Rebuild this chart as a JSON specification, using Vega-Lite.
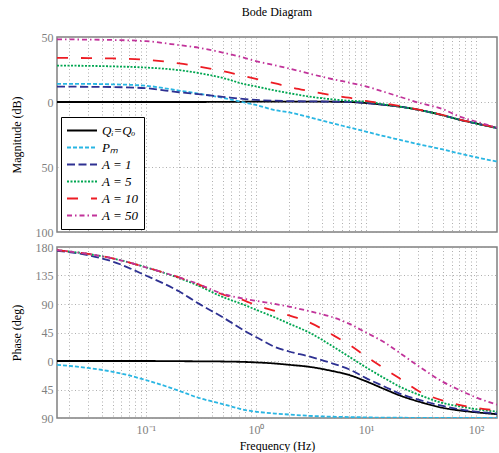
{
  "$schema": "https://vega.github.io/schema/vega-lite/v6.json",
  "background": "white",
  "padding": {"left": 9, "top": 5, "right": 1, "bottom": 0},
  "config": {
    "font": "Liberation Serif",
    "view": {"stroke": "#808080", "strokeWidth": 1.5},
    "axis": {
      "labelFont": "Liberation Serif", "titleFont": "Liberation Serif",
      "labelColor": "#7f7f7f", "labelFontSize": 12, "titleFontSize": 12,
      "titleFontWeight": "normal", "titleColor": "#000000",
      "domain": false, "grid": true, "gridColor": "#9a9a9a", "gridDash": [1, 2.5], "gridWidth": 0.8,
      "ticks": false, "labelPadding": 4
    },
    "legend": {
      "orient": "none", "legendX": 4, "legendY": 80, "title": null,
      "labelFont": "Liberation Serif", "labelFontStyle": "italic", "labelFontSize": 13, "labelColor": "#000000",
      "symbolType": "stroke", "symbolSize": 900, "symbolStrokeWidth": 2, "clipHeight": 17,
      "strokeColor": "#000000", "fillColor": "white", "padding": 5, "rowPadding": 0, "labelOffset": 4
    }
  },
  "data": {"values": [
    {"s":"Qᵢ=Qₒ","f":0.0156,"m":0,"p":0},{"s":"Qᵢ=Qₒ","f":0.03,"m":0,"p":0},{"s":"Qᵢ=Qₒ","f":0.05,"m":0,"p":0},{"s":"Qᵢ=Qₒ","f":0.1,"m":0,"p":0},{"s":"Qᵢ=Qₒ","f":0.2,"m":0,"p":-0.3},{"s":"Qᵢ=Qₒ","f":0.3,"m":0,"p":-0.5},{"s":"Qᵢ=Qₒ","f":0.5,"m":0.1,"p":-0.8},{"s":"Qᵢ=Qₒ","f":0.8,"m":0.2,"p":-1.5},{"s":"Qᵢ=Qₒ","f":1,"m":0.3,"p":-2.2},{"s":"Qᵢ=Qₒ","f":1.5,"m":0.3,"p":-4},{"s":"Qᵢ=Qₒ","f":2,"m":0.3,"p":-6},{"s":"Qᵢ=Qₒ","f":3,"m":0.3,"p":-9},{"s":"Qᵢ=Qₒ","f":5,"m":0.2,"p":-16},{"s":"Qᵢ=Qₒ","f":7,"m":0,"p":-22},{"s":"Qᵢ=Qₒ","f":10,"m":-0.8,"p":-32},{"s":"Qᵢ=Qₒ","f":15,"m":-2.3,"p":-45},{"s":"Qᵢ=Qₒ","f":20,"m":-3.5,"p":-54},{"s":"Qᵢ=Qₒ","f":30,"m":-6,"p":-64},{"s":"Qᵢ=Qₒ","f":50,"m":-10.2,"p":-74},{"s":"Qᵢ=Qₒ","f":70,"m":-13.5,"p":-78},{"s":"Qᵢ=Qₒ","f":100,"m":-16.5,"p":-81},{"s":"Qᵢ=Qₒ","f":155,"m":-20,"p":-84},
    {"s":"Pₘ","f":0.0156,"m":14,"p":-6},{"s":"Pₘ","f":0.03,"m":13.9,"p":-11},{"s":"Pₘ","f":0.05,"m":13.6,"p":-17},{"s":"Pₘ","f":0.1,"m":12.5,"p":-30},{"s":"Pₘ","f":0.2,"m":8.8,"p":-47},{"s":"Pₘ","f":0.3,"m":6.5,"p":-58},{"s":"Pₘ","f":0.5,"m":3.2,"p":-68},{"s":"Pₘ","f":0.8,"m":-0.5,"p":-77.5},{"s":"Pₘ","f":1,"m":-2.3,"p":-80},{"s":"Pₘ","f":1.5,"m":-6.3,"p":-83},{"s":"Pₘ","f":2,"m":-8,"p":-84.5},{"s":"Pₘ","f":3,"m":-11.5,"p":-86.5},{"s":"Pₘ","f":5,"m":-16.4,"p":-88},{"s":"Pₘ","f":7,"m":-19.5,"p":-88.5},{"s":"Pₘ","f":10,"m":-22.8,"p":-89},{"s":"Pₘ","f":15,"m":-26.5,"p":-89.5},{"s":"Pₘ","f":20,"m":-29,"p":-89.6},{"s":"Pₘ","f":30,"m":-32.5,"p":-89.7},{"s":"Pₘ","f":50,"m":-36.5,"p":-89.8},{"s":"Pₘ","f":70,"m":-39.5,"p":-89.8},{"s":"Pₘ","f":100,"m":-42.5,"p":-89.9},{"s":"Pₘ","f":155,"m":-45.8,"p":-89.9},
    {"s":"A = 1","f":0.0156,"m":11.8,"p":174},{"s":"A = 1","f":0.03,"m":11.7,"p":167},{"s":"A = 1","f":0.05,"m":11.5,"p":157},{"s":"A = 1","f":0.1,"m":10.6,"p":135},{"s":"A = 1","f":0.2,"m":7.5,"p":110},{"s":"A = 1","f":0.3,"m":6,"p":91},{"s":"A = 1","f":0.5,"m":4,"p":69},{"s":"A = 1","f":0.8,"m":2.2,"p":47},{"s":"A = 1","f":1,"m":1.6,"p":38},{"s":"A = 1","f":1.5,"m":1,"p":22},{"s":"A = 1","f":2,"m":0.7,"p":15},{"s":"A = 1","f":3,"m":0.5,"p":7.5},{"s":"A = 1","f":5,"m":0.3,"p":-4},{"s":"A = 1","f":7,"m":0.1,"p":-13},{"s":"A = 1","f":10,"m":-0.8,"p":-27},{"s":"A = 1","f":15,"m":-2.3,"p":-41},{"s":"A = 1","f":20,"m":-3.5,"p":-51},{"s":"A = 1","f":30,"m":-6,"p":-61},{"s":"A = 1","f":50,"m":-10.2,"p":-71},{"s":"A = 1","f":70,"m":-13.5,"p":-76},{"s":"A = 1","f":100,"m":-16.5,"p":-80},{"s":"A = 1","f":155,"m":-20,"p":-83},
    {"s":"A = 5","f":0.0156,"m":28,"p":175},{"s":"A = 5","f":0.03,"m":27.8,"p":169},{"s":"A = 5","f":0.05,"m":27.4,"p":162},{"s":"A = 5","f":0.1,"m":26.5,"p":148},{"s":"A = 5","f":0.2,"m":24.5,"p":131},{"s":"A = 5","f":0.3,"m":22.3,"p":119},{"s":"A = 5","f":0.5,"m":18.5,"p":101},{"s":"A = 5","f":0.8,"m":13.6,"p":88},{"s":"A = 5","f":1,"m":12,"p":81},{"s":"A = 5","f":1.5,"m":8.8,"p":68.6},{"s":"A = 5","f":2,"m":6.8,"p":59},{"s":"A = 5","f":3,"m":4.3,"p":45.6},{"s":"A = 5","f":5,"m":2,"p":23},{"s":"A = 5","f":7,"m":1,"p":7},{"s":"A = 5","f":10,"m":0.3,"p":-10},{"s":"A = 5","f":15,"m":-2,"p":-28},{"s":"A = 5","f":20,"m":-3.5,"p":-40},{"s":"A = 5","f":30,"m":-6,"p":-53},{"s":"A = 5","f":50,"m":-10.2,"p":-66.5},{"s":"A = 5","f":70,"m":-13.5,"p":-71.5},{"s":"A = 5","f":100,"m":-16.5,"p":-76},{"s":"A = 5","f":155,"m":-20,"p":-80},
    {"s":"A = 10","f":0.0156,"m":34,"p":175},{"s":"A = 10","f":0.03,"m":33.8,"p":169},{"s":"A = 10","f":0.05,"m":33.5,"p":162},{"s":"A = 10","f":0.1,"m":32.5,"p":148},{"s":"A = 10","f":0.2,"m":29.7,"p":132},{"s":"A = 10","f":0.3,"m":27.3,"p":121},{"s":"A = 10","f":0.5,"m":23.7,"p":105},{"s":"A = 10","f":0.8,"m":19.7,"p":95},{"s":"A = 10","f":1,"m":17.8,"p":88},{"s":"A = 10","f":1.5,"m":14.3,"p":79},{"s":"A = 10","f":2,"m":11.6,"p":72},{"s":"A = 10","f":3,"m":8.6,"p":61.5},{"s":"A = 10","f":5,"m":5.2,"p":41},{"s":"A = 10","f":7,"m":3.3,"p":26},{"s":"A = 10","f":10,"m":0.8,"p":7.3},{"s":"A = 10","f":15,"m":-1.3,"p":-13},{"s":"A = 10","f":20,"m":-3,"p":-27},{"s":"A = 10","f":30,"m":-5.8,"p":-47.3},{"s":"A = 10","f":50,"m":-10,"p":-62.5},{"s":"A = 10","f":70,"m":-13.3,"p":-69.2},{"s":"A = 10","f":100,"m":-16.3,"p":-74.2},{"s":"A = 10","f":155,"m":-19.8,"p":-78},
    {"s":"A = 50","f":0.0156,"m":48.2,"p":175},{"s":"A = 50","f":0.03,"m":48,"p":169},{"s":"A = 50","f":0.05,"m":47.7,"p":162},{"s":"A = 50","f":0.1,"m":46.8,"p":148},{"s":"A = 50","f":0.2,"m":43.8,"p":132},{"s":"A = 50","f":0.3,"m":41.8,"p":121.5},{"s":"A = 50","f":0.5,"m":38,"p":106},{"s":"A = 50","f":0.8,"m":33.8,"p":98},{"s":"A = 50","f":1,"m":31.5,"p":95},{"s":"A = 50","f":1.5,"m":28.2,"p":90},{"s":"A = 50","f":2,"m":25.8,"p":86},{"s":"A = 50","f":3,"m":22,"p":79},{"s":"A = 50","f":5,"m":17.5,"p":69},{"s":"A = 50","f":7,"m":15,"p":59},{"s":"A = 50","f":10,"m":12,"p":45},{"s":"A = 50","f":15,"m":7.5,"p":28.5},{"s":"A = 50","f":20,"m":4.2,"p":13.5},{"s":"A = 50","f":30,"m":-0.5,"p":-8},{"s":"A = 50","f":50,"m":-5.5,"p":-33},{"s":"A = 50","f":70,"m":-11,"p":-45.5},{"s":"A = 50","f":100,"m":-15,"p":-57.5},{"s":"A = 50","f":155,"m":-19.8,"p":-69}
  ]},
  "spacing": 1,
  "resolve": {
    "scale": {"color": "independent", "strokeDash": "independent"},
    "legend": {"color": "independent", "strokeDash": "independent"}
  },
  "vconcat": [
    {
      "title": {"text": "Bode Diagram", "fontSize": 12, "font": "Liberation Serif", "fontWeight": "normal", "offset": 12, "anchor": "middle", "frame": "group", "color": "#000000"},
      "width": 440,
      "height": 195,
      "mark": {"type": "line", "strokeWidth": 1.8, "interpolate": "monotone", "clip": true},
      "encoding": {
        "x": {"field": "f", "type": "quantitative",
          "scale": {"type": "log", "domain": [0.0156, 155], "nice": false},
          "axis": {"values": [0.02,0.03,0.04,0.05,0.06,0.07,0.08,0.09,0.1,0.2,0.3,0.4,0.5,0.6,0.7,0.8,0.9,1,2,3,4,5,6,7,8,9,10,20,30,40,50,60,70,80,90,100], "labels": false, "title": null, "minExtent": 0, "maxExtent": 0, "labelPadding": 0, "offset": 0}},
        "y": {"field": "m", "type": "quantitative",
          "scale": {"domain": [-100, 50], "nice": false, "zero": false},
          "axis": {"values": [50, 0, -50, -100], "labelExpr": "abs(datum.value)", "title": "Magnitude (dB)", "titlePadding": 12}},
        "color": {"field": "s", "type": "nominal",
          "scale": {"domain": ["Qᵢ=Qₒ", "Pₘ", "A = 1", "A = 5", "A = 10", "A = 50"], "range": ["#000000", "#29b6e3", "#2e3192", "#00a651", "#ed1c24", "#c1339a"]},
          "legend": {}},
        "strokeDash": {"field": "s", "type": "nominal",
          "scale": {"domain": ["Qᵢ=Qₒ", "Pₘ", "A = 1", "A = 5", "A = 10", "A = 50"], "range": [[1, 0], [4, 2], [8, 3.5], [2, 1.5], [11, 13], [5, 3, 1.5, 3]]},
          "legend": {}}
      }
    },
    {
      "width": 440,
      "height": 171,
      "mark": {"type": "line", "strokeWidth": 1.8, "interpolate": "monotone", "clip": true},
      "encoding": {
        "x": {"field": "f", "type": "quantitative",
          "scale": {"type": "log", "domain": [0.0156, 155], "nice": false},
          "axis": {"values": [0.02,0.03,0.04,0.05,0.06,0.07,0.08,0.09,0.1,0.2,0.3,0.4,0.5,0.6,0.7,0.8,0.9,1,2,3,4,5,6,7,8,9,10,20,30,40,50,60,70,80,90,100],
            "labelExpr": "datum.value == 0.1 ? '10⁻¹' : datum.value == 1 ? '10⁰' : datum.value == 10 ? '10¹' : datum.value == 100 ? '10²' : ''",
            "labelOverlap": false, "labelBound": false, "labelPadding": 6, "title": "Frequency  (Hz)", "titlePadding": 5}},
        "y": {"field": "p", "type": "quantitative",
          "scale": {"domain": [-90, 180], "nice": false, "zero": false},
          "axis": {"values": [180, 135, 90, 45, 0, -45, -90], "labelExpr": "abs(datum.value)", "title": "Phase (deg)", "titlePadding": 12}},
        "color": {"field": "s", "type": "nominal",
          "scale": {"domain": ["Qᵢ=Qₒ", "Pₘ", "A = 1", "A = 5", "A = 10", "A = 50"], "range": ["#000000", "#29b6e3", "#2e3192", "#00a651", "#ed1c24", "#c1339a"]},
          "legend": null},
        "strokeDash": {"field": "s", "type": "nominal",
          "scale": {"domain": ["Qᵢ=Qₒ", "Pₘ", "A = 1", "A = 5", "A = 10", "A = 50"], "range": [[1, 0], [4, 2], [8, 3.5], [2, 1.5], [11, 13], [5, 3, 1.5, 3]]},
          "legend": null}
      }
    }
  ]
}
